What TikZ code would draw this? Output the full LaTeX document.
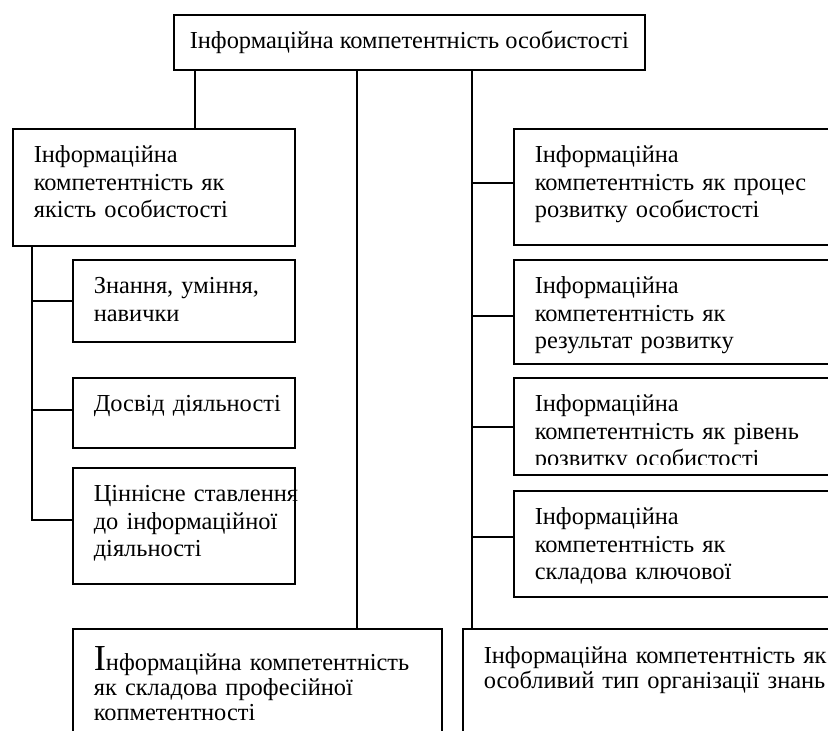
\documentclass[tikz,border=0pt]{standalone}
\usepackage{fontspec}
\setmainfont{Liberation Serif}
\usepackage{tikz}

\begin{document}
\begin{tikzpicture}[
    x=0.5pt, y=-0.5pt,
    font=\fontsize{12.2}{13.75}\selectfont,
    cell/.style={draw, line width=0.8pt, anchor=north west, align=left,
                 inner xsep=10.5pt, inner ysep=0pt, text height=17pt},
    link/.style={line width=0.8pt}
    ]
\useasboundingbox (0,0) rectangle (828,730);

\node[draw, line width=0.8pt, anchor=north west, inner sep=0pt,
      minimum width=235.5pt, minimum height=27.5pt] (head) at (173,14)
      {Інформаційна компетентність особистості};

\node[cell, minimum width=141pt, text width=120pt, text depth=41.5pt] (quality) at (12,128)
      {Інформаційна\\ компетентність як\\ якість особистості};
\node[cell, minimum width=111pt, text width=90pt, text depth=24pt] (skills) at (72,259)
      {Знання, уміння,\\ навички};
\node[cell, minimum width=111pt, text width=90pt, text depth=18pt] (practice) at (72,377)
      {Досвід~діяльності};
\node[cell, minimum width=111pt, text width=90pt, text depth=41pt] (attitude) at (72,467)
      {Ціннісне~ставлення\\ до~інформаційної\\ діяльності};

\node[cell, minimum width=200pt, text width=179pt, text depth=41pt] (process) at (513,128)
      {Інформаційна\\ компетентність як процес\\ розвитку особистості};
\node[cell, minimum width=200pt, text width=179pt, text depth=35pt] (result) at (513,259)
      {Інформаційна\\ компетентність як\\ результат розвитку};
\node[cell, minimum width=200pt, text width=179pt, text depth=31.5pt] (level) at (513,377)
      {Інформаційна\\ компетентність як рівень\\ розвитку особистості};
\fill[white] (515,465) rectangle (830,473);
\node[cell, minimum width=200pt, text width=179pt, text depth=36pt] (keypart) at (513,490)
      {Інформаційна\\ компетентність як\\ складова ключової};

\node[cell, font=\fontsize{12.2}{12.5}\selectfont, text height=21pt,
      minimum width=184.5pt, text width=163.5pt, text depth=60pt] (profpart) at (72,628)
      {{\fontsize{18.3}{12.5}\selectfont І}нформаційна компетентність\\ як складова професійної\\ копметентності};
\node[cell, font=\fontsize{12.2}{12.5}\selectfont, text height=17.5pt,
      minimum width=200pt, text width=179pt, text depth=60pt] (knowtype) at (462,628)
      {Інформаційна компетентність як\\ особливий тип організації знань};

\coordinate (abus) at (195,0);
\coordinate (mbus) at (357,0);
\coordinate (rbus) at (472,0);
\coordinate (lbus) at (32,0);

\draw[link] (head.south -| abus) -- (quality.north -| abus);
\draw[link] (head.south -| mbus) -- (profpart.north -| mbus);
\draw[link] (head.south -| rbus) -- (knowtype.north -| rbus);

\draw[link] ([yshift=2pt]process.west -| rbus) -- ([yshift=2pt]process.west);
\draw[link] ([yshift=-2pt]result.west -| rbus) -- ([yshift=-2pt]result.west);
\draw[link] ([yshift=-0.25pt]level.west -| rbus) -- ([yshift=-0.25pt]level.west);
\draw[link] ([yshift=3.5pt]keypart.west -| rbus) -- ([yshift=3.5pt]keypart.west);

\draw[link] (quality.south -| lbus) |- ([yshift=3pt]attitude.west);
\draw[link] (lbus |- skills.west) -- (skills.west);
\draw[link] ([yshift=1.5pt]practice.west -| lbus) -- ([yshift=1.5pt]practice.west);
\end{tikzpicture}
\end{document}
